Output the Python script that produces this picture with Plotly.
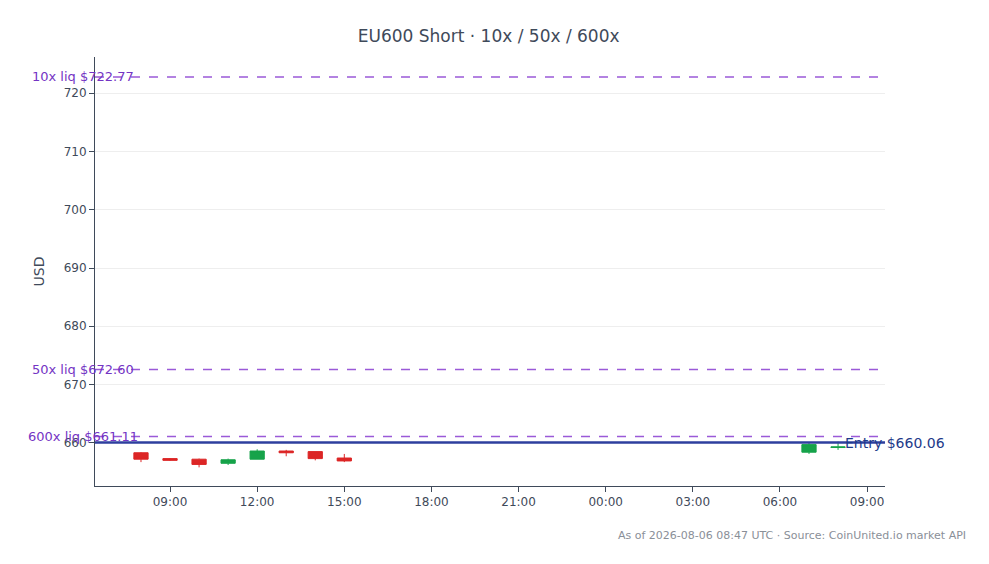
import plotly.graph_objects as go

times = ["2026-08-05 08:00","2026-08-05 09:00","2026-08-05 10:00","2026-08-05 11:00",
         "2026-08-05 12:00","2026-08-05 13:00","2026-08-05 14:00","2026-08-05 15:00",
         "2026-08-06 07:00","2026-08-06 08:00"]
opens  = [658.3, 657.3, 657.2, 656.5, 657.2, 658.6, 658.5, 657.4, 658.4, 659.2]
highs  = [658.4, 657.4, 657.3, 657.3, 658.9, 658.8, 658.5, 658.1, 660.0, 660.2]
lows   = [656.7, 656.9, 655.8, 656.2, 657.2, 657.7, 657.0, 656.7, 658.1, 658.8]
closes = [657.2, 657.0, 656.3, 657.1, 658.6, 658.3, 657.3, 656.9, 659.7, 659.3]

liq_labels = ["10x liq $722.77", "50x liq $672.60", "600x liq $661.11"]
liq_levels = [722.77, 672.60, 661.11]
entry = 660.06

fig = go.Figure(go.Candlestick(
    x=times, open=opens, high=highs, low=lows, close=closes,
    increasing=dict(line=dict(color="#16a34a", width=1), fillcolor="#16a34a"),
    decreasing=dict(line=dict(color="#dc2626", width=1), fillcolor="#dc2626"),
    showlegend=False))

for lab, lv in zip(liq_labels, liq_levels):
    fig.add_hline(y=lv, line=dict(color="#9a5ad8", width=1.5, dash="dash"))
    fig.add_annotation(x=0, xref="paper", y=lv, yref="y", text=lab, showarrow=False,
                       xanchor="center", xshift=-12, font=dict(color="#7434c4", size=13))
fig.add_hline(y=entry, line=dict(color="#2e3f9e", width=2.5))
fig.add_annotation(x=1, xref="paper", y=entry, yref="y", text=f"Entry ${entry:.2f}",
                   showarrow=False, xanchor="center", xshift=10, font=dict(color="#1e3a8a", size=14))

fig.add_annotation(x=1.105, xref="paper", y=-0.095, yref="paper", text="As of 2026-08-06 08:47 UTC · Source: CoinUnited.io market API",
                   showarrow=False, xanchor="right", yanchor="top", font=dict(color="#8a8f98", size=11))

fig.update_layout(
    width=989, height=564, paper_bgcolor="white", plot_bgcolor="white",
    font=dict(family="DejaVu Sans", color="#3f4a5a", size=12),
    title=dict(text="EU600 Short · 10x / 50x / 600x", x=0.486, y=0.96, xanchor="center",
               font=dict(size=17, color="#3f4a5a")),
    margin=dict(l=87, r=112, t=49, b=86),
    xaxis=dict(range=["2026-08-05 06:25", "2026-08-06 09:37"], rangeslider=dict(visible=False),
               tickformat="%H:%M", dtick=3*3600*1000, tick0="2026-08-05 00:00",
               showgrid=False, showline=True, linecolor="#3f4a5a", ticks="outside", ticklen=5,
               tickcolor="#3f4a5a"),
    yaxis=dict(range=[652.6, 726.2], dtick=10, title=dict(text="USD", font=dict(size=14)),
               showgrid=True, gridcolor="#eeeeee", showline=True, linecolor="#3f4a5a",
               ticks="outside", ticklen=5, tickcolor="#3f4a5a", zeroline=False),
)
fig.write_html("out.html")
